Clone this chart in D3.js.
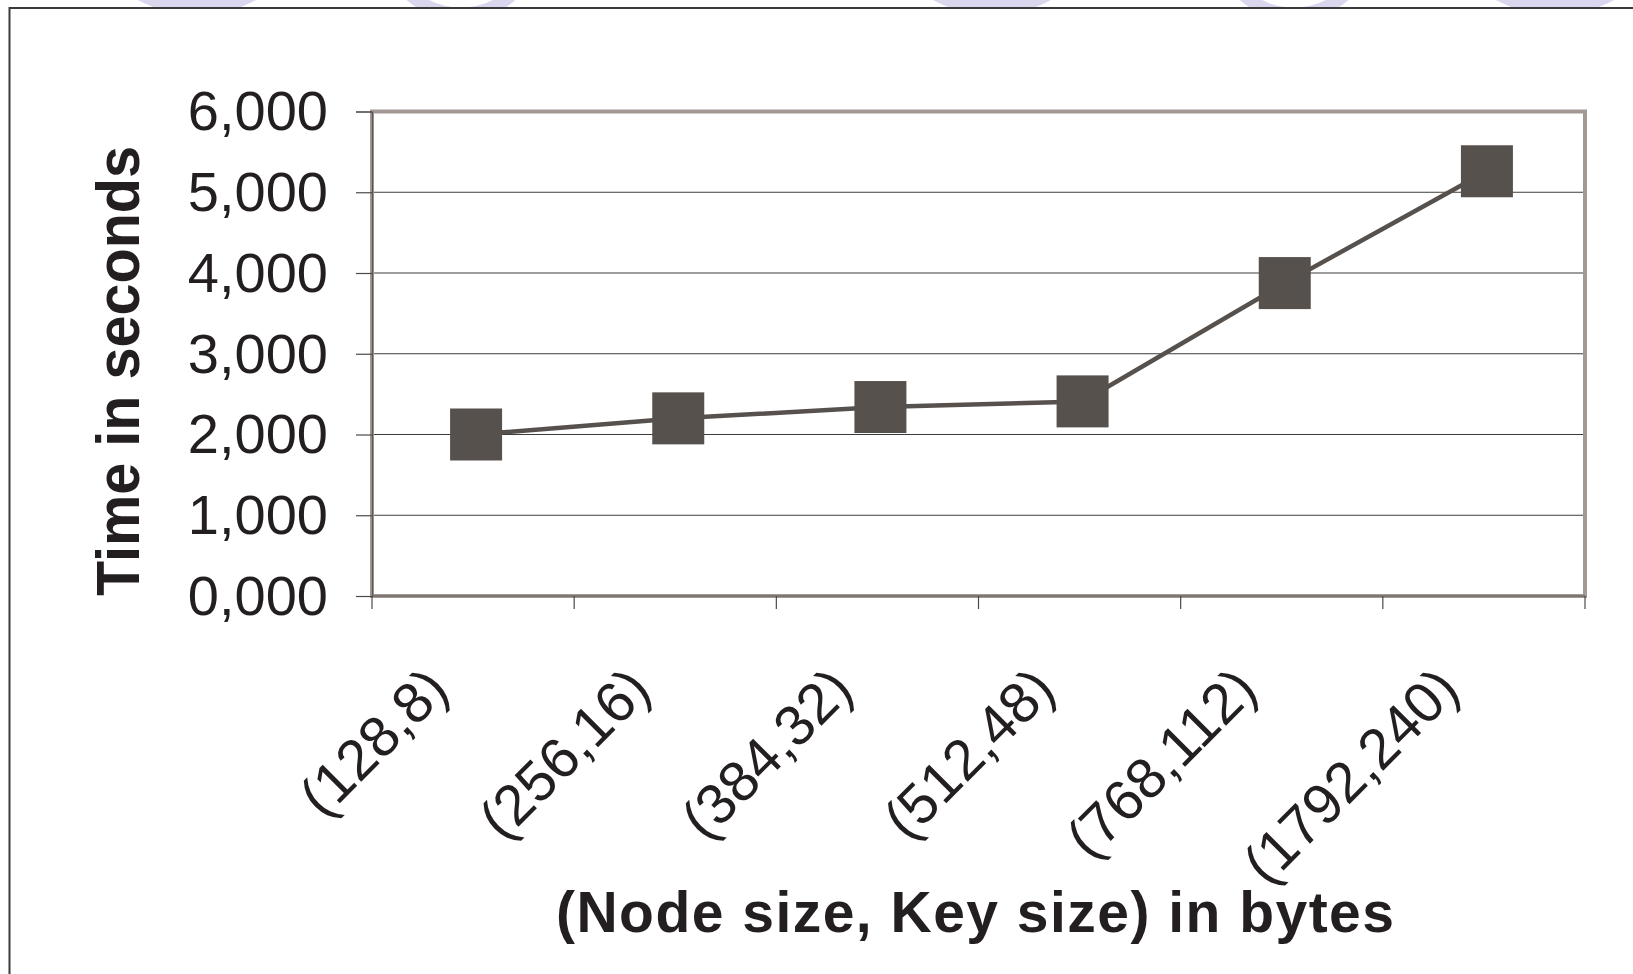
<!DOCTYPE html>
<html>
<head>
<meta charset="utf-8">
<script src="https://cdn.jsdelivr.net/npm/d3@7/dist/d3.min.js"></script>
<style>
  html, body { margin: 0; padding: 0; background: #ffffff; }
  svg { display: block; font-family: Arial, "Liberation Sans", Helvetica, sans-serif; }
</style>
</head>
<body>
<svg id="chart" width="1633" height="974"></svg>
<script>
// (Node size, Key size) pairs on the x axis
const categories = ["(128,8)", "(256,16)", "(384,32)", "(512,48)", "(768,112)", "(1792,240)"];
// measured run time per configuration
const times = [2.000, 2.200, 2.340, 2.410, 3.875, 5.260];
// y axis tick values
const yTicks = [0, 1, 2, 3, 4, 5, 6];
// slide decorations along the top edge: centre x and style
const decoX = [197, 461, 992, 1294, 1555];
const decoKind = ["disc", "ring", "disc", "ring", "disc"];

const svg = d3.select("#chart");
const W = 1633, H = 974;
const plot = { left: 372, right: 1585, top: 111.5, bottom: 596 };

const x = d3.scaleBand().domain(categories).range([plot.left, plot.right]);
const y = d3.scaleLinear().domain([0, 6]).range([plot.bottom, plot.top]);

// decimal comma, three decimals: 6,000
const locale = d3.formatLocale({ decimal: ",", thousands: ".", grouping: [3], currency: ["", ""] });
const fmt = locale.format(".3f");

const ink = "#231f20";
const markColor = "#57514e";

// ---- top decorations (clipped to the strip above the frame) ----
svg.append("defs").append("clipPath").attr("id", "topStrip")
  .append("rect").attr("x", 0).attr("y", 0).attr("width", W).attr("height", 8);
const deco = svg.append("g").attr("clip-path", "url(#topStrip)");
decoX.forEach((cx, i) => {
  if (decoKind[i] === "disc") {
    deco.append("circle").attr("cx", cx).attr("cy", -109).attr("r", 124).attr("fill", "#d9d6ee");
  } else {
    deco.append("circle").attr("cx", cx).attr("cy", -62).attr("r", 76)
      .attr("fill", "none").attr("stroke", "#d9d6ee").attr("stroke-width", 13);
  }
});

// ---- outer frame (top and left edges) ----
svg.append("path")
  .attr("d", `M9.5,${H} L9.5,8 L${W},8`)
  .attr("fill", "none").attr("stroke", "#3a3a3a").attr("stroke-width", 2);

// ---- horizontal gridlines ----
svg.append("g").selectAll("line")
  .data(yTicks.slice(1, -1))
  .join("line")
  .attr("x1", plot.left).attr("x2", plot.right)
  .attr("y1", d => y(d)).attr("y2", d => y(d))
  .attr("stroke", "#3c3c3c").attr("stroke-width", 1.2);

// ---- plot area border ----
svg.append("rect")
  .attr("x", plot.left).attr("y", plot.top)
  .attr("width", plot.right - plot.left).attr("height", plot.bottom - plot.top)
  .attr("fill", "none").attr("stroke", "#a39893").attr("stroke-width", 4);

// ---- y axis ----
const yAxis = d3.axisLeft(y).tickValues(yTicks).tickSize(16).tickPadding(28).tickFormat(fmt);
const gy = svg.append("g").attr("transform", `translate(${plot.left},0)`).call(yAxis);
gy.select(".domain").attr("stroke", "#5a5452").attr("stroke-width", 1.2);
gy.selectAll(".tick line").attr("stroke", "#4a4a4a").attr("stroke-width", 1.2);
gy.selectAll(".tick text")
  .attr("font-size", 56).attr("fill", ink).attr("dy", "0.33em")
  .attr("font-family", "Arial, 'Liberation Sans', sans-serif");

// ---- x axis: ticks on category boundaries ----
const bounds = categories.map(c => x(c)).concat([plot.right]);
const gx = svg.append("g");
gx.append("line")
  .attr("x1", plot.left).attr("x2", plot.right)
  .attr("y1", plot.bottom).attr("y2", plot.bottom)
  .attr("stroke", "#5a5452").attr("stroke-width", 1.2);
gx.selectAll("line.tick")
  .data(bounds)
  .join("line").attr("class", "tick")
  .attr("x1", d => d).attr("x2", d => d)
  .attr("y1", plot.bottom).attr("y2", plot.bottom + 13)
  .attr("stroke", "#4a4a4a").attr("stroke-width", 1.2);
gx.selectAll("text")
  .data(categories)
  .join("text")
  .attr("transform", d => `translate(${x(d) + x.bandwidth() / 2 - 22},${plot.bottom + 96}) rotate(-45)`)
  .attr("text-anchor", "end")
  .attr("font-size", 57).attr("fill", ink)
  .text(d => d);

// ---- axis titles ----
svg.append("text")
  .attr("transform", `translate(139,371) rotate(-90)`)
  .attr("text-anchor", "middle")
  .attr("font-size", 62).attr("font-weight", "bold").attr("fill", ink)
  .attr("textLength", 450).attr("lengthAdjust", "spacingAndGlyphs")
  .text("Time in seconds");

svg.append("text")
  .attr("x", 975).attr("y", 932)
  .attr("text-anchor", "middle")
  .attr("font-size", 57).attr("font-weight", "bold").attr("fill", ink)
  .attr("textLength", 838).attr("lengthAdjust", "spacing")
  .text("(Node size, Key size) in bytes");

// ---- series line and square markers (points sit just right of the band centre) ----
const pts = categories.map((c, i) => [x(c) + x.bandwidth() / 2 + 3, y(times[i])]);
svg.append("path")
  .attr("d", d3.line()(pts))
  .attr("fill", "none").attr("stroke", markColor).attr("stroke-width", 4.5);

const side = 52;
svg.append("g").selectAll("rect")
  .data(pts)
  .join("rect")
  .attr("x", d => d[0] - side / 2).attr("y", d => d[1] - side / 2)
  .attr("width", side).attr("height", side)
  .attr("fill", markColor);
</script>
</body>
</html>
